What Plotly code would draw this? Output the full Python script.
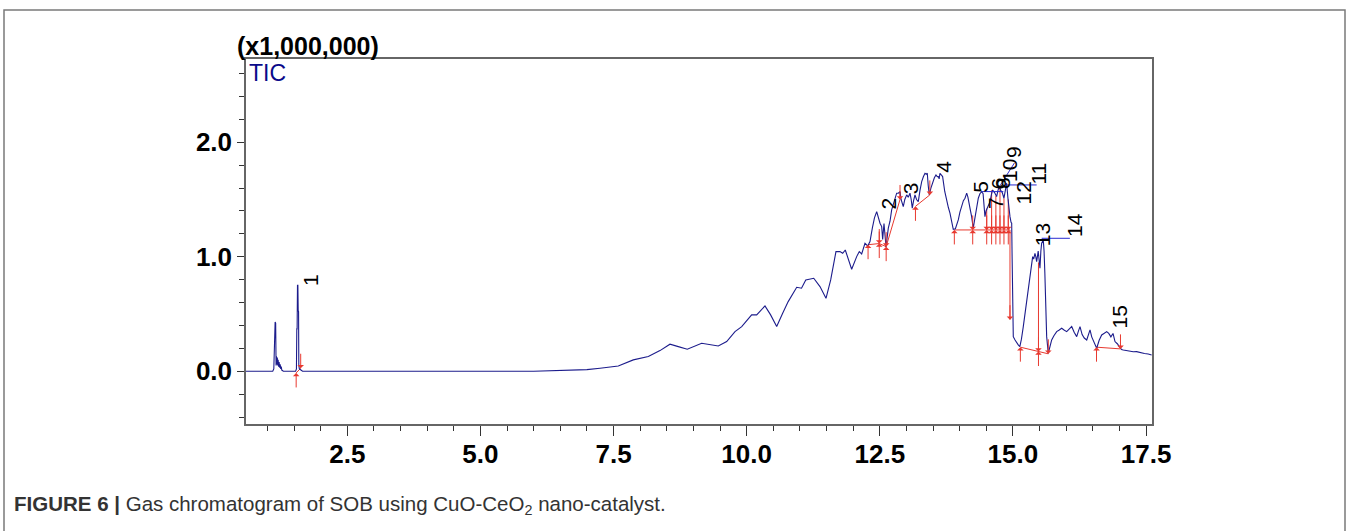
import plotly.graph_objects as go

# ---------------- data ----------------
rt = [0.598, 1.10, 1.12, 1.135, 1.145, 1.155, 1.163, 1.17, 1.178, 1.186, 1.194, 1.202, 1.21, 1.22,
      1.23, 1.24, 1.25, 1.26, 1.27, 1.29, 1.30, 1.53, 1.545, 1.552, 1.558, 1.565, 1.572, 1.578,
      1.585, 1.59, 1.60, 1.63, 1.66, 6.0, 6.5, 7.0, 7.246, 7.589, 7.871, 8.153, 8.372, 8.56, 8.716,
      8.885, 9.155, 9.467, 9.625, 9.781, 9.907, 10.094, 10.188, 10.344, 10.45, 10.564, 10.676, 10.78,
      10.94, 11.03, 11.11, 11.26, 11.377, 11.49, 11.578, 11.677, 11.752, 11.803, 11.852, 11.909,
      11.972, 12.066, 12.115, 12.16, 12.222, 12.273, 12.316, 12.36, 12.40, 12.442, 12.48, 12.504,
      12.536, 12.554, 12.579, 12.60, 12.617, 12.66, 12.692, 12.723, 12.754, 12.79, 12.817, 12.848,
      12.879, 12.90, 12.941, 12.97, 13.005, 13.035, 13.067, 13.09, 13.11, 13.135, 13.161, 13.19,
      13.223, 13.255, 13.287, 13.32, 13.349, 13.372, 13.392, 13.41, 13.43, 13.46, 13.493, 13.525,
      13.555, 13.58, 13.599, 13.615, 13.63, 13.655, 13.68, 13.72, 13.756, 13.788, 13.818, 13.85,
      13.88, 13.92, 13.974, 14.005, 14.037, 14.07, 14.10, 14.132, 14.155, 14.175, 14.20, 14.225,
      14.255, 14.28, 14.306, 14.33, 14.35, 14.38, 14.413, 14.44, 14.46, 14.475, 14.495, 14.518,
      14.545, 14.57, 14.595, 14.619, 14.655, 14.694, 14.72, 14.744, 14.77, 14.80, 14.832, 14.86,
      14.882, 14.905, 14.925, 14.945, 14.965, 14.977, 14.985, 14.99, 14.995, 15.007, 15.04, 15.07,
      15.10, 15.13, 15.16, 15.195, 15.225, 15.258, 15.29, 15.32, 15.35, 15.371, 15.39, 15.414,
      15.43, 15.446, 15.475, 15.49, 15.508, 15.525, 15.54, 15.57, 15.585, 15.60, 15.615, 15.634,
      15.664, 15.69, 15.728, 15.77, 15.822, 15.87, 15.916, 15.96, 16.01, 16.06, 16.104, 16.15,
      16.198, 16.23, 16.26, 16.30, 16.34, 16.386, 16.42, 16.448, 16.48, 16.52, 16.573, 16.62,
      16.667, 16.71, 16.761, 16.80, 16.84, 16.88, 16.917, 16.96, 16.998, 17.04, 17.073, 17.13,
      17.20, 17.26, 17.323, 17.40, 17.47, 17.54, 17.605]
tic = [0.0, 0.0, 0.02, 0.43, 0.43, 0.42, 0.05, 0.13, 0.06, 0.12, 0.05, 0.10, 0.04, 0.08,
       0.03, 0.06, 0.02, 0.04, 0.01, 0.005, 0.0, 0.0, 0.02, 0.37, 0.37, 0.75, 0.75, 0.53,
       0.52, 0.05, 0.02, 0.01, 0.0, 0.0, 0.006, 0.014, 0.026, 0.046, 0.099, 0.128, 0.18, 0.236, 0.215,
       0.192, 0.244, 0.221, 0.259, 0.346, 0.39, 0.492, 0.492, 0.57, 0.492, 0.39, 0.507, 0.608,
       0.733, 0.725, 0.797, 0.812, 0.739, 0.637, 0.797, 1.045, 1.045, 1.03, 1.059, 0.972,
       0.891, 1.001, 1.045, 1.024, 1.118, 1.094, 1.132, 1.25, 1.34, 1.394, 1.33, 1.293,
       1.263, 1.15, 1.29, 1.15, 1.088, 1.25, 1.31, 1.409, 1.46, 1.52, 1.555, 1.555,
       1.569, 1.50, 1.438, 1.50, 1.54, 1.52, 1.555, 1.50, 1.424, 1.49, 1.54, 1.50,
       1.481, 1.58, 1.656, 1.70, 1.729, 1.72, 1.729, 1.62, 1.54, 1.60, 1.656, 1.69,
       1.714, 1.70, 1.70, 1.68, 1.729, 1.71, 1.70, 1.57, 1.481, 1.43, 1.38, 1.30,
       1.24, 1.245, 1.321, 1.39, 1.452, 1.49, 1.511, 1.555, 1.52, 1.481, 1.41, 1.35,
       1.249, 1.32, 1.394, 1.46, 1.511, 1.55, 1.569, 1.55, 1.45, 1.35, 1.40, 1.424,
       1.45, 1.48, 1.54, 1.583, 1.56, 1.525, 1.58, 1.612, 1.58, 1.56, 1.511, 1.58,
       1.642, 1.52, 1.40, 1.35, 1.30, 1.293, 1.0, 0.70, 0.45, 0.302, 0.273, 0.245,
       0.23, 0.215, 0.28, 0.39, 0.50, 0.623, 0.74, 0.856, 0.95, 1.001, 0.98, 1.03,
       1.0, 0.957, 1.05, 0.95, 0.9, 1.05, 1.118, 1.147, 1.05, 0.856, 0.55, 0.302,
       0.157, 0.20, 0.273, 0.31, 0.346, 0.36, 0.375, 0.36, 0.346, 0.37, 0.39, 0.34,
       0.302, 0.35, 0.39, 0.32, 0.29, 0.273, 0.33, 0.361, 0.30, 0.26, 0.201, 0.27,
       0.317, 0.33, 0.346, 0.33, 0.30, 0.33, 0.259, 0.24, 0.215, 0.19, 0.186, 0.18,
       0.175, 0.17, 0.171, 0.16, 0.155, 0.15, 0.142]

# peak labels (text, retention time, label height)
peak_labels = ["1", "2", "3", "4", "5", "7", "6", "8", "10", "9", "11", "12", "13", "14", "15"]
label_rt = [1.818, 12.66, 13.067, 13.69, 14.40, 14.66, 14.725, 14.79, 14.945, 15.007, 15.477, 15.195, 15.57, 16.166, 17.01]
label_y = [0.797, 1.467, 1.598, 1.787, 1.61, 1.467, 1.642, 1.642, 1.758, 1.918, 1.729, 1.555, 1.19, 1.278, 0.477]

# integration baselines (polylines)
base_rt = [[1.54, 1.625], [12.28, 12.49, 12.62], [12.62, 12.88], [13.17, 13.44],
           [13.90, 14.945], [15.14, 15.48, 15.665], [16.57, 17.02]]
base_y = [[-0.015, 0.026], [1.105, 1.115, 1.088], [1.088, 1.50], [1.44, 1.54],
          [1.234, 1.234], [0.21, 0.172, 0.152], [0.21, 0.195]]

# peak separation drop lines
drop_rt = [12.49, 12.88, 14.508, 14.60, 14.68, 14.757, 14.832, 14.913, 14.945, 15.48]
drop_lo = [1.115, 1.50, 1.234, 1.234, 1.234, 1.234, 1.234, 1.234, 0.45, 0.172]
drop_hi = [1.22, 1.569, 1.42, 1.58, 1.53, 1.60, 1.51, 1.50, 1.234, 0.95]

# peak start / end markers
start_rt = [1.54, 12.28, 12.49, 12.62, 13.17, 13.90, 14.245, 14.508, 14.60, 14.68, 14.757, 14.832, 14.913, 15.14, 15.48, 16.57]
start_y = [-0.015, 1.105, 1.115, 1.088, 1.44, 1.234, 1.234, 1.234, 1.234, 1.234, 1.234, 1.234, 1.234, 0.21, 0.172, 0.21]
end_rt = [1.625, 12.49, 12.62, 12.88, 13.44, 14.245, 14.508, 14.60, 14.68, 14.757, 14.832, 14.913, 14.945, 15.48, 15.665, 17.02]
end_y = [0.026, 1.115, 1.088, 1.50, 1.54, 1.234, 1.234, 1.234, 1.234, 1.234, 1.234, 1.234, 0.45, 0.172, 0.152, 0.195]

# label leader lines
lead_rt = [[14.41, 14.82], [14.757, 15.03], [14.88, 15.446], [15.54, 16.07]]
lead_y = [[1.569, 1.569], [1.62, 1.82], [1.627, 1.627], [1.161, 1.161]]

# ---------------- figure ----------------
NAVY = "#1c1c8c"
RED = "#e8392f"
FONT = "Liberation Sans, Arial"

def joined(xs_list, ys_list):
    xs, ys = [], []
    for a, b in zip(xs_list, ys_list):
        xs += list(a) + [None]
        ys += list(b) + [None]
    return xs, ys

fig = go.Figure()

bx, by = joined(base_rt, base_y)
fig.add_trace(go.Scatter(x=bx, y=by, mode="lines", line=dict(color=RED, width=1), hoverinfo="skip"))

dx, dy = joined([[t, t] for t in drop_rt], [[lo, hi] for lo, hi in zip(drop_lo, drop_hi)])
fig.add_trace(go.Scatter(x=dx, y=dy, mode="lines", line=dict(color=RED, width=1), hoverinfo="skip"))

fig.add_trace(go.Scatter(x=rt, y=tic, mode="lines", line=dict(color=NAVY, width=1.1), name="TIC"))

lx, ly = joined(lead_rt, lead_y)
fig.add_trace(go.Scatter(x=lx, y=ly, mode="lines", line=dict(color="#2a2ad0", width=1), hoverinfo="skip"))

annotations = []
for t, y in zip(start_rt, start_y):
    annotations.append(dict(x=t, y=y, xref="x", yref="y", ax=0, ay=16, text="", showarrow=True,
                            arrowhead=1, arrowsize=1.1, arrowwidth=1, arrowcolor=RED, standoff=0))
for t, y in zip(end_rt, end_y):
    annotations.append(dict(x=t, y=y, xref="x", yref="y", ax=0, ay=-16, text="", showarrow=True,
                            arrowhead=1, arrowsize=1.1, arrowwidth=1, arrowcolor=RED, standoff=0))
for s, t, y in zip(peak_labels, label_rt, label_y):
    annotations.append(dict(x=t, y=y, xref="x", yref="y", text=s, showarrow=False, textangle=-90,
                            xanchor="center", yanchor="middle",
                            font=dict(family=FONT, size=21, color="#000000")))

annotations.append(dict(x=(235 - 246) / 906, y=(424 - 46) / 365, xref="paper", yref="paper",
                        text="<b>(x1,000,000)</b>",
                        showarrow=False, xanchor="left", yanchor="middle",
                        font=dict(family=FONT, size=25, color="#000000")))
annotations.append(dict(x=(247 - 246) / 906, y=(424 - 73) / 365, xref="paper", yref="paper", text="TIC",
                        showarrow=False, xanchor="left", yanchor="middle",
                        font=dict(family=FONT, size=23, color="#0a0a8a")))
annotations.append(dict(x=(12 - 246) / 906, y=(424 - 505) / 365, xref="paper", yref="paper",
                        text="<b>FIGURE 6 |</b> Gas chromatogram of SOB using CuO-CeO<sub>2</sub> nano-catalyst.",
                        showarrow=False, xanchor="left", yanchor="middle",
                        font=dict(family=FONT, size=20.5, color="#333333")))

fig.update_layout(
    width=1348, height=531,
    margin=dict(l=246, r=196, t=59, b=107),
    paper_bgcolor="white", plot_bgcolor="white",
    showlegend=False,
    annotations=annotations,
    shapes=[dict(type="rect", xref="paper", yref="paper",
                 x0=(4 - 246) / 906, x1=(1345 - 246) / 906, y0=(424 - 545) / 365, y1=(424 - 10) / 365,
                 line=dict(color="#7a7a7a", width=1.5), fillcolor="rgba(0,0,0,0)", layer="below")],
)
fig.update_xaxes(range=[0.598, 17.612], showgrid=False, zeroline=False,
                 showline=True, linecolor="#666666", linewidth=1.5, mirror=True,
                 tickmode="linear", tick0=0, dtick=2.5, tickformat=".1f",
                 ticks="outside", ticklen=10, tickcolor="#333333", tickwidth=1,
                 ticklabelstandoff=-4,
                 tickfont=dict(family=FONT, size=26, color="#000000", weight="bold"),
                 minor=dict(dtick=0.5, tick0=0, ticks="outside", ticklen=5, tickcolor="#333333"))
fig.update_yaxes(range=[-0.461, 2.727], showgrid=False, zeroline=False,
                 showline=True, linecolor="#666666", linewidth=1.5, mirror=True,
                 tickmode="linear", tick0=0, dtick=1, tickformat=".1f",
                 ticks="outside", ticklen=7, tickcolor="#333333", tickwidth=1,
                 tickfont=dict(family=FONT, size=26, color="#000000", weight="bold"),
                 minor=dict(dtick=0.2, tick0=0, ticks="outside", ticklen=5, tickcolor="#333333"))

fig.write_html("out.html", config={"displayModeBar": False},
               post_script="document.body.style.margin='0px';document.body.style.overflow='hidden';")
